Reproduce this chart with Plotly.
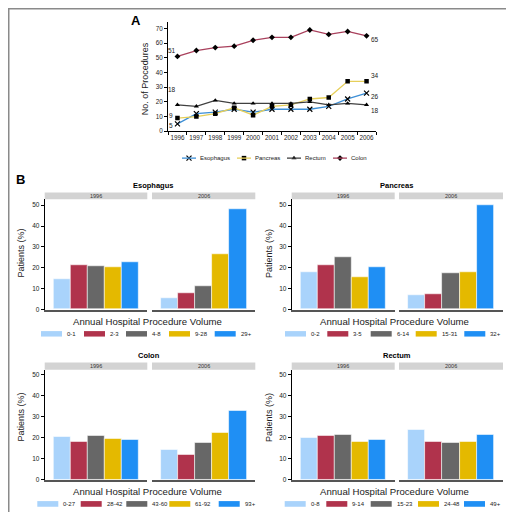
import plotly.graph_objects as go

W, H = 514, 512

# ---------------- data ----------------
years = [str(y) for y in range(1996, 2007)]
esophagus_counts = [5, 12, 13, 15, 13, 15, 15, 15, 17, 22, 26]
pancreas_counts = [9, 10, 12, 16, 11, 17, 18, 22, 23, 34, 34]
rectum_counts = [18, 17, 21, 19, 19, 19, 19, 20, 18, 19, 18]
colon_counts = [51, 55, 57, 58, 62, 64, 64, 69, 66, 68, 65]

facet_years = ["1996", "2006"]
esophagus_bins = ["0-1", "2-3", "4-8", "9-28", "29+"]
esophagus_1996 = [14.6, 21.1, 21.0, 20.2, 22.5]
esophagus_2006 = [5.3, 7.8, 11.4, 26.3, 48.3]
pancreas_bins = ["0-2", "3-5", "6-14", "15-31", "32+"]
pancreas_1996 = [17.9, 21.1, 24.9, 15.6, 20.2]
pancreas_2006 = [6.8, 7.5, 17.6, 17.7, 50.0]
colon_bins = ["0-27", "28-42", "43-60", "61-92", "93+"]
colon_1996 = [20.7, 18.3, 21.1, 19.7, 19.2]
colon_2006 = [14.5, 12.0, 17.5, 22.4, 33.0]
rectum_bins = ["0-8", "9-14", "15-23", "24-48", "49+"]
rectum_1996 = [19.9, 20.8, 21.6, 18.0, 18.9]
rectum_2006 = [24.0, 18.3, 17.7, 18.3, 21.3]

# ---------------- style ----------------
FONT = "Liberation Sans, Arial, sans-serif"
TXT = "#222222"
bar_colors = ["#a9d3fb", "#b0334c", "#676767", "#e4b900", "#1f8ff4"]
line_colors = {"Esophagus": "#3d8fd6", "Pancreas": "#e6cf5a",
               "Rectum": "#404040", "Colon": "#a9405c"}
symbols = {"Esophagus": "x-thin-open", "Pancreas": "square",
           "Rectum": "triangle-up", "Colon": "diamond"}
msizes = {"Esophagus": 5, "Pancreas": 4.5, "Rectum": 4.5, "Colon": 4.5}


def PX(x):
    return x / W


def PY(y):
    return 1 - y / H


def marker_style(name):
    return dict(color="black", size=msizes[name], symbol=symbols[name],
                line=dict(color="black", width=1.2 if name == "Esophagus" else 0))


fig = go.Figure()
layout = {}
shapes = []
annotations = []

# ---------------- panel A ----------------
series = [("Esophagus", esophagus_counts), ("Pancreas", pancreas_counts),
          ("Rectum", rectum_counts), ("Colon", colon_counts)]
for name, vals in series:
    fig.add_trace(go.Scatter(
        x=years, y=vals, name=name, mode="lines+markers",
        line=dict(color=line_colors[name], width=1.3),
        marker=marker_style(name), xaxis="x", yaxis="y", showlegend=False))

layout["xaxis"] = dict(domain=[PX(160), PX(368)], anchor="y", type="category",
                       range=[-0.5, 10.5], tickson="boundaries", ticks="outside",
                       ticklen=3, tickcolor="black", showline=True, linecolor="black",
                       linewidth=1, showgrid=False, zeroline=False, tickangle=0,
                       tickfont=dict(family=FONT, size=6.3, color=TXT))
layout["yaxis"] = dict(domain=[PY(124), PY(14)], anchor="x", range=[0, 74.5],
                       tickvals=list(range(0, 71, 10)), ticks="outside", ticklen=3,
                       tickcolor="black", showline=True, linecolor="black", linewidth=1,
                       showgrid=False, zeroline=False,
                       tickfont=dict(family=FONT, size=6.3, color=TXT))
annotations.append(dict(x=PX(137), y=PY(71.7), xref="paper", yref="paper",
                        text="No. of Procedures", showarrow=False, textangle=-90,
                        xanchor="center", yanchor="middle",
                        font=dict(family=FONT, size=9, color=TXT)))

# endpoint labels (x given as category index)
lab_font = dict(family=FONT, size=6.5, color=TXT)
first, last = 0, len(years) - 1
end_labels = [
    (first, colon_counts[0], "right", 1, 6),
    (first, rectum_counts[0], "right", 1, 15),
    (first, pancreas_counts[0], "right", -2, 3),
    (first, esophagus_counts[0], "right", -2, -2),
    (last, colon_counts[-1], "left", 2, -4),
    (last, pancreas_counts[-1], "left", 2, 6),
    (last, esophagus_counts[-1], "left", 2, -3),
    (last, rectum_counts[-1], "left", 2, -6),
]
for xv, yv, anc, xs, ys in end_labels:
    annotations.append(dict(x=xv, y=yv, xref="x", yref="y", text=str(yv),
                            showarrow=False, xanchor=anc, yanchor="middle",
                            xshift=xs, yshift=ys, font=lab_font))

# legend for panel A (manual, compact): hidden pixel-space overlay axis
leg_names = [s[0] for s in series]
leg_x0 = [174, 229, 279, 325]
leg_y = 151
layout["xaxis10"] = dict(domain=[0, 1], range=[0, W], visible=False, anchor="y10",
                         fixedrange=True)
layout["yaxis10"] = dict(domain=[0, 1], range=[H, 0], visible=False, anchor="x10",
                         fixedrange=True)
for name, lx in zip(leg_names, leg_x0):
    shapes.append(dict(type="line", xref="x10", yref="y10", x0=lx, x1=lx + 14,
                       y0=leg_y, y1=leg_y, line=dict(color=line_colors[name], width=1.3)))
    fig.add_trace(go.Scatter(x=[lx + 7], y=[leg_y], mode="markers",
                             marker=marker_style(name), xaxis="x10", yaxis="y10",
                             showlegend=False, hoverinfo="skip"))
    annotations.append(dict(x=lx + 16, y=leg_y, xref="x10", yref="y10", text=name,
                            showarrow=False, xanchor="left", yanchor="middle",
                            font=dict(family=FONT, size=6, color=TXT)))

annotations.append(dict(x=PX(128), y=PY(13), xref="paper", yref="paper", text="<b>A</b>",
                        showarrow=False, xanchor="center", yanchor="middle",
                        font=dict(family=FONT, size=13, color="black")))
annotations.append(dict(x=PX(12), y=PY(173), xref="paper", yref="paper", text="<b>B</b>",
                        showarrow=False, xanchor="center", yanchor="middle",
                        font=dict(family=FONT, size=13, color="black")))

# ---------------- panel B ----------------
panels = [
    dict(name="Esophagus", bins=esophagus_bins, vals=[esophagus_1996, esophagus_2006],
         xs=[(36.7, 139.3), (144, 247.3)], ybot=303.3, ytop=192.3, ymax=52.86,
         title=(145, 178.5), strip=(185.7, 192.3), xtitle=(139.7, 315),
         ytitle=(13.3, 246.7), leg_y=(325, 330.5), sw=[33, 76, 118, 161, 206.7]),
    dict(name="Pancreas", bins=pancreas_bins, vals=[pancreas_1996, pancreas_2006],
         xs=[(283.7, 386.7), (391, 495)], ybot=303.3, ytop=192.3, ymax=52.86,
         title=(388.3, 178.5), strip=(185.7, 192.3), xtitle=(386.3, 315),
         ytitle=(261.7, 246.7), leg_y=(325, 330.5), sw=[277, 319.3, 362.7, 407.7, 456.3]),
    dict(name="Colon", bins=colon_bins, vals=[colon_1996, colon_2006],
         xs=[(36.7, 139.3), (144, 247.3)], ybot=474.7, ytop=364, ymax=52.37,
         title=(140.7, 349.5), strip=(356.7, 364), xtitle=(139.7, 486),
         ytitle=(13.3, 411.7), leg_y=(496, 501.7), sw=[29.3, 72.7, 118.3, 161.3, 210.7]),
    dict(name="Rectum", bins=rectum_bins, vals=[rectum_1996, rectum_2006],
         xs=[(283.7, 386.7), (391, 495)], ybot=474.7, ytop=364, ymax=52.37,
         title=(389.3, 349.5), strip=(356.7, 364), xtitle=(386, 486),
         ytitle=(261.7, 411.7), leg_y=(496, 501.7), sw=[276.7, 318.3, 362.7, 410, 456]),
]

ax = 2
for p in panels:
    for fi, fy in enumerate(facet_years):
        xa, ya = f"xaxis{ax}", f"yaxis{ax}"
        xr, yr = f"x{ax}", f"y{ax}"
        x0, x1 = p["xs"][fi]
        fig.add_trace(go.Bar(
            x=p["bins"], y=p["vals"][fi], xaxis=xr, yaxis=yr, showlegend=False,
            marker=dict(color=bar_colors, line=dict(color="rgba(255,255,255,0.7)", width=0.8)),
            hovertemplate="%{x}: %{y}%<extra>" + p["name"] + " " + fy + "</extra>"))
        layout[xa] = dict(domain=[PX(x0), PX(x1)], anchor=yr, type="category",
                          range=[-1, 5], showticklabels=False, ticks="",
                          showline=True, linecolor="#555555", linewidth=2,
                          showgrid=False, zeroline=False)
        ydict = dict(domain=[PY(p["ybot"]), PY(p["ytop"])], anchor=xr,
                     range=[0, p["ymax"]], showgrid=False, zeroline=False)
        if fi == 0:
            ydict.update(tickvals=list(range(0, 51, 10)), ticks="outside", ticklen=3,
                         tickcolor="black", showline=True, linecolor="black", linewidth=1,
                         tickfont=dict(family=FONT, size=6.5, color=TXT))
        else:
            ydict.update(showticklabels=False, ticks="", showline=False)
        layout[ya] = ydict
        # strip
        shapes.append(dict(type="rect", xref="paper", yref="paper",
                           x0=PX(x0), x1=PX(x1), y0=PY(p["strip"][1]), y1=PY(p["strip"][0]),
                           fillcolor="#d3d3d3", line=dict(width=0), layer="below"))
        annotations.append(dict(x=PX((x0 + x1) / 2), y=PY(sum(p["strip"]) / 2),
                                xref="paper", yref="paper", text=fy, showarrow=False,
                                xanchor="center", yanchor="middle",
                                font=dict(family=FONT, size=5.5, color="#333")))
        ax += 1
    # panel title
    annotations.append(dict(x=PX(p["title"][0]), y=PY(p["title"][1]), xref="paper",
                            yref="paper", text="<b>" + p["name"] + "</b>", showarrow=False,
                            xanchor="center", yanchor="middle",
                            font=dict(family=FONT, size=7.5, color="black")))
    # axis titles
    annotations.append(dict(x=PX(p["xtitle"][0]), y=PY(p["xtitle"][1]), xref="paper",
                            yref="paper", text="Annual Hospital Procedure Volume",
                            showarrow=False, xanchor="center", yanchor="middle",
                            font=dict(family=FONT, size=9.6, color=TXT)))
    annotations.append(dict(x=PX(p["ytitle"][0]), y=PY(p["ytitle"][1]), xref="paper",
                            yref="paper", text="Patients (%)", showarrow=False,
                            textangle=-90, xanchor="center", yanchor="middle",
                            font=dict(family=FONT, size=9, color=TXT)))
    # legend
    ly0, ly1 = p["leg_y"]
    for i, b in enumerate(p["bins"]):
        sx = p["sw"][i]
        shapes.append(dict(type="rect", xref="paper", yref="paper",
                           x0=PX(sx), x1=PX(sx + 21), y0=PY(ly1), y1=PY(ly0),
                           fillcolor=bar_colors[i], line=dict(width=0)))
        annotations.append(dict(x=PX(sx + 24), y=PY((ly0 + ly1) / 2), xref="paper",
                                yref="paper", text=b, showarrow=False, xanchor="left",
                                yanchor="middle",
                                font=dict(family=FONT, size=6, color=TXT)))

# frame
for x0, y0, x1, y1 in [(0, 1, 1, 1), (0, 0, 0, 1), (1, 0, 1, 1)]:
    shapes.append(dict(type="line", xref="paper", yref="paper", x0=x0, y0=y0, x1=x1, y1=y1,
                       line=dict(color="#8a8a8a", width=3)))

fig.update_layout(
    width=W, height=H, autosize=False,
    margin=dict(l=0, r=0, t=0, b=0),
    paper_bgcolor="white", plot_bgcolor="rgba(0,0,0,0)",
    bargap=0, showlegend=False,
    shapes=shapes, annotations=annotations,
    **layout)

fig.write_html("out.html")
